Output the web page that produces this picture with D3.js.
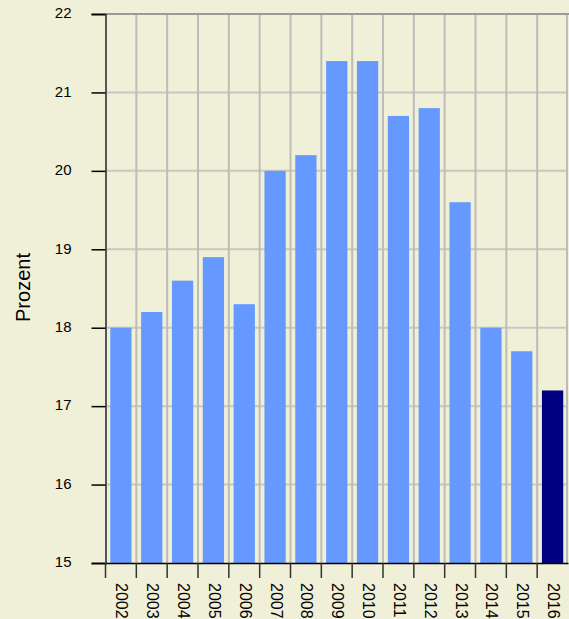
<!DOCTYPE html>
<html>
<head>
<meta charset="utf-8">
<script src="https://cdn.jsdelivr.net/npm/d3@7"></script>
<style>
  body { margin: 0; background: #f0efd8; }
  svg { display: block; font-family: Arial, "Liberation Sans", sans-serif; }
</style>
</head>
<body>
<svg id="chart"></svg>
<script>
const years = ["2002", "2003", "2004", "2005", "2006", "2007", "2008", "2009",
  "2010", "2011", "2012", "2013", "2014", "2015", "2016"];
const values = [18.0, 18.2, 18.6, 18.9, 18.3, 20.0, 20.2, 21.4,
  21.4, 20.7, 20.8, 19.6, 18.0, 17.7, 17.2];
const yTicks = [15, 16, 17, 18, 19, 20, 21, 22];
const yTitle = "Prozent";
const highlight = "2016";

const width = 569;
const height = 619;
const margin = { top: 14, right: 1, bottom: 56, left: 105.5 };

const svg = d3.select("#chart")
  .attr("width", width)
  .attr("height", height);

svg.append("rect")
  .attr("width", width)
  .attr("height", height)
  .attr("fill", "#f0efd8");

const x = d3.scaleBand()
  .domain(years)
  .range([margin.left, width - margin.right])
  .paddingInner(0.31)
  .paddingOuter(0.155);

const xb = d3.scaleBand()
  .domain(years)
  .range([margin.left, width - margin.right]);

const y = d3.scaleLinear()
  .domain([15, 22])
  .range([height - margin.bottom, margin.top]);

// horizontal grid
svg.append("g")
  .selectAll("line")
  .data(yTicks.slice(1, -1))
  .join("line")
  .attr("x1", margin.left)
  .attr("x2", width - margin.right)
  .attr("y1", (d) => y(d))
  .attr("y2", (d) => y(d))
  .attr("stroke", "#c8c8c0")
  .attr("stroke-width", 2);

// vertical grid at band edges
svg.append("g")
  .selectAll("line")
  .data(years.slice(1).concat(["end"]))
  .join("line")
  .attr("x1", (d) => d === "end" ? width - margin.right - 1 : xb(d))
  .attr("x2", (d) => d === "end" ? width - margin.right - 1 : xb(d))
  .attr("y1", margin.top)
  .attr("y2", height - margin.bottom)
  .attr("stroke", "#bdbdb8")
  .attr("stroke-width", 2);

// top border
svg.append("line")
  .attr("x1", margin.left)
  .attr("x2", width)
  .attr("y1", margin.top)
  .attr("y2", margin.top)
  .attr("stroke", "#9a9a9a")
  .attr("stroke-width", 2);

// bars
svg.append("g")
  .selectAll("rect")
  .data(years.map((yr, i) => ({ year: yr, value: values[i] })))
  .join("rect")
  .attr("x", (d) => x(d.year))
  .attr("width", x.bandwidth())
  .attr("y", (d) => y(d.value))
  .attr("height", (d) => y(15) - y(d.value))
  .attr("fill", (d) => d.year === highlight ? "#000080" : "#6699ff");

// y axis
const yAxis = d3.axisLeft(y)
  .tickValues(yTicks)
  .tickSize(14)
  .tickPadding(20)
  .tickFormat(d3.format("d"));

const gy = svg.append("g")
  .attr("transform", `translate(${margin.left}, 0)`)
  .call(yAxis);
gy.select(".domain").attr("stroke", "#555").attr("stroke-width", 2);
gy.selectAll(".tick line").attr("stroke", "#000").attr("stroke-width", 1.5);
gy.selectAll(".tick text")
  .attr("fill", "#000")
  .style("font-size", "15px")
  .attr("dy", "0.25em");

// x axis
const xAxis = d3.axisBottom(xb)
  .tickSize(0)
  .tickFormat(() => "");

const gx = svg.append("g")
  .attr("transform", `translate(0, ${height - margin.bottom})`)
  .call(xAxis);
gx.select(".domain").attr("stroke", "#000").attr("stroke-width", 1.5);

svg.append("g")
  .selectAll("line")
  .data(years)
  .join("line")
  .attr("x1", (d) => xb(d))
  .attr("x2", (d) => xb(d))
  .attr("y1", height - margin.bottom)
  .attr("y2", height - margin.bottom + 15)
  .attr("stroke", "#333")
  .attr("stroke-width", 1.5);

svg.append("g")
  .selectAll("text")
  .data(years)
  .join("text")
  .attr("transform", (d) =>
    `translate(${xb(d) + xb.bandwidth() / 2 - 4.5}, ${height - margin.bottom + 20}) rotate(90)`)
  .attr("text-anchor", "start")
  .style("font-size", "16px")
  .attr("fill", "#000")
  .text((d) => d);

// y title
svg.append("text")
  .attr("transform", `translate(30, ${(margin.top + height - margin.bottom) / 2 - 1}) rotate(-90)`)
  .attr("text-anchor", "middle")
  .style("font-size", "20px")
  .attr("fill", "#000")
  .text(yTitle);
</script>
</body>
</html>
